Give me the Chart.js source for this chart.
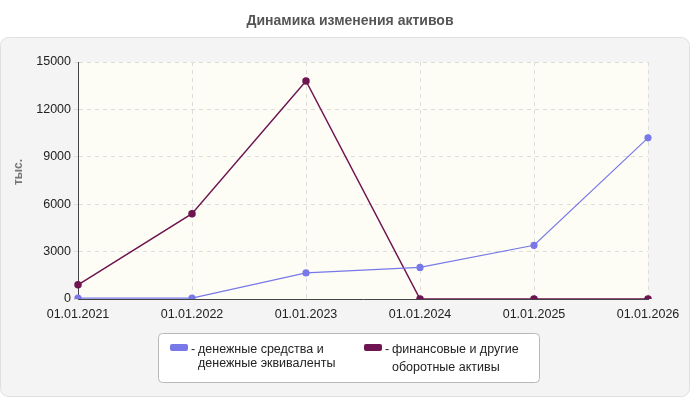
<!DOCTYPE html>
<html><head><meta charset="utf-8">
<script src="https://cdn.jsdelivr.net/npm/chart.js@4/dist/chart.umd.min.js"></script>
<style>body{margin:0;background:#fff}#wrap{width:700px;height:400px}</style>
</head><body><div id="wrap"><canvas id="c" width="700" height="400"></canvas></div>
<script>
const categories = ['01.01.2021', '01.01.2022', '01.01.2023', '01.01.2024', '01.01.2025', '01.01.2026'];
const cashValues = [50, 50, 1650, 2000, 3400, 10200];
const finValues = [900, 5400, 13800, 0, 0, 0];
const yTicks = [0, 3000, 6000, 9000, 12000, 15000];
const seriesNames = [['денежные средства и', 'денежные эквиваленты'], ['финансовые и другие', 'оборотные активы']];
const colors = ['#7878e8', '#6e1450'];

function roundRect(ctx, x, y, w, h, r) {
  ctx.beginPath();
  ctx.moveTo(x + r, y);
  ctx.arcTo(x + w, y, x + w, y + h, r);
  ctx.arcTo(x + w, y + h, x, y + h, r);
  ctx.arcTo(x, y + h, x, y, r);
  ctx.arcTo(x, y, x + w, y, r);
  ctx.closePath();
}

const decor = {
  id: 'decor',
  beforeDraw(chart) {
    const ctx = chart.ctx, a = chart.chartArea;
    ctx.save();
    ctx.fillStyle = '#fff';
    ctx.fillRect(0, 0, 700, 400);
    roundRect(ctx, 0.5, 37.5, 689, 359, 8);
    ctx.fillStyle = '#f4f4f4';
    ctx.fill();
    ctx.strokeStyle = '#e0e0e0';
    ctx.stroke();
    ctx.fillStyle = '#fdfdf6';
    ctx.fillRect(a.left, a.top, a.right - a.left, a.bottom - a.top);
    ctx.fillStyle = '#555';
    ctx.font = 'bold 14px "Liberation Sans", Arial';
    ctx.textAlign = 'center';
    ctx.fillText('Динамика изменения активов', 350, 25);
    ctx.translate(22, 172);
    ctx.rotate(-Math.PI / 2);
    ctx.fillStyle = '#777';
    ctx.font = 'bold 12px "Liberation Sans", Arial';
    ctx.fillText('тыс.', 0, 0);
    ctx.restore();
  },
  afterDraw(chart) {
    const ctx = chart.ctx;
    ctx.save();
    roundRect(ctx, 158.5, 333.5, 381, 49, 4);
    ctx.fillStyle = '#fff';
    ctx.fill();
    ctx.strokeStyle = '#b8b8b8';
    ctx.stroke();
    const xs = [170, 364];
    ctx.font = '12.5px "Liberation Sans", Arial';
    ctx.textAlign = 'left';
    xs.forEach((x, i) => {
      roundRect(ctx, x, 344, 18, 7, 2);
      ctx.fillStyle = colors[i];
      ctx.fill();
      ctx.fillStyle = '#222';
      ctx.fillText('-', x + 21, 353);
      ctx.fillText(seriesNames[i][0], x + 28, 353);
      ctx.fillText(seriesNames[i][1], x + 28, 367 + (i ? 4 : 0));
    });
    ctx.restore();
  }
};

new Chart(document.getElementById('c'), {
  type: 'line',
  data: {
    labels: categories,
    datasets: [
      { data: cashValues, borderColor: colors[0], backgroundColor: colors[0], borderWidth: 1.2, pointRadius: 3, tension: 0 },
      { data: finValues, borderColor: colors[1], backgroundColor: colors[1], borderWidth: 1.5, pointRadius: 3, tension: 0 }
    ]
  },
  options: {
    responsive: false,
    animation: false,
    layout: { padding: { top: 62, right: 52, left: 0, bottom: 0 } },
    plugins: { legend: { display: false }, tooltip: { enabled: false } },
    scales: {
      x: {
        offset: false,
        afterFit(s) { s.height = 101; },
        grid: { color: '#dcdcdc', drawTicks: false },
        border: { display: true, color: '#444', dash: [4, 4] },
        ticks: { color: '#222', font: { size: 12.5, family: '"Liberation Sans", Arial' }, maxRotation: 0, padding: 8 }
      },
      y: {
        min: 0, max: 15000,
        afterFit(s) { s.width = 78; },
        afterBuildTicks(s) { s.ticks = yTicks.map(v => ({ value: v })); },
        grid: { color: '#dcdcdc', drawTicks: true, tickLength: 4 },
        border: { display: true, color: '#444', dash: [4, 4] },
        ticks: { color: '#222', font: { size: 12.5, family: '"Liberation Sans", Arial' }, padding: 3, callback: v => String(v) }
      }
    }
  },
  plugins: [decor]
});
</script></body></html>
